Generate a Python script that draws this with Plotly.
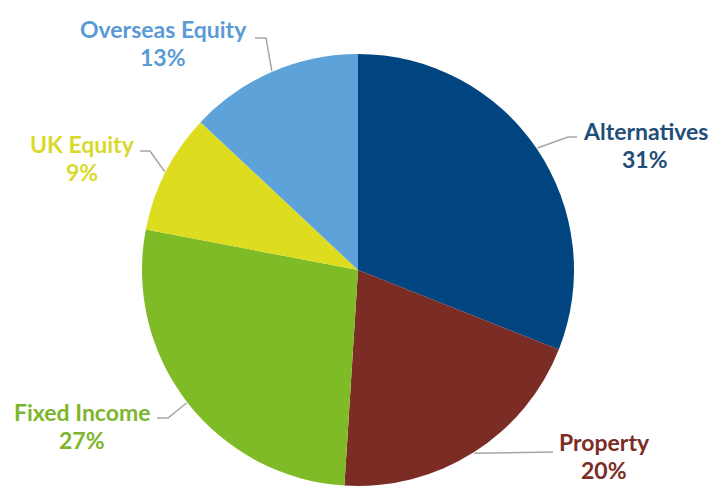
import math
import plotly.graph_objects as go

# ---- data ----
labels = ["Alternatives", "Property", "Fixed Income", "UK Equity", "Overseas Equity"]
values = [31, 20, 27, 9, 13]
slice_colors = ["#004480", "#7B2C25", "#7FBA27", "#DEDC1F", "#5DA3D9"]
text_colors = ["#1F4E79", "#7B2C25", "#7DB52D", "#D9D92C", "#5B9BD5"]

# ---- layout geometry (pixels) ----
W, H = 713, 486
CX, CY, R = 358, 270, 216
# label centre positions (name line, pixel coords) and leader-line elbow/end points
label_pos = [(645, 131), (604, 442), (82, 412), (82, 144), (163, 29)]
pct_dy = 28
leader_pts = [
    [(568, 137), (577, 137)],
    [(553, 452)],
    [(168, 418), (157, 418)],
    [(150, 151), (140, 151)],
    [(266, 38), (255, 38)],
]

def px(x):
    return x / W

def py(y):
    return 1 - y / H

fig = go.Figure(go.Pie(
    labels=labels,
    values=values,
    sort=False,
    direction="clockwise",
    rotation=0,
    marker=dict(colors=slice_colors, line=dict(width=0)),
    textinfo="none",
    hoverinfo="label+percent",
    showlegend=False,
    domain=dict(x=[px(CX - R), px(CX + R)], y=[py(CY + R), py(CY - R)]),
))

total = sum(values)
cum = 0
annotations = []
shapes = []
for i, (lab, v) in enumerate(zip(labels, values)):
    mid = (cum + v / 2) / total * 2 * math.pi
    cum += v
    sx = CX + (R + 1) * math.sin(mid)
    sy = CY - (R + 1) * math.cos(mid)
    pts = [(sx, sy)] + leader_pts[i]
    path = "M " + " L ".join(f"{px(x)},{py(y)}" for x, y in pts)
    shapes.append(dict(type="path", xref="paper", yref="paper", path=path,
                       line=dict(color="#A6A6A6", width=1.5)))
    lx, ly = label_pos[i]
    pct = round(v / total * 100)
    for txt, yy in ((lab, ly), (f"{pct}%", ly + pct_dy)):
        annotations.append(dict(
            x=px(lx), y=py(yy), xref="paper", yref="paper",
            text=f"<b>{txt}</b>", showarrow=False,
            xanchor="center", yanchor="middle",
            font=dict(family="Lato", size=23, color=text_colors[i]),
        ))

fig.update_layout(
    width=W, height=H,
    margin=dict(l=0, r=0, t=0, b=0),
    paper_bgcolor="white",
    plot_bgcolor="white",
    annotations=annotations,
    shapes=shapes,
)

fig.write_html("out.html")
